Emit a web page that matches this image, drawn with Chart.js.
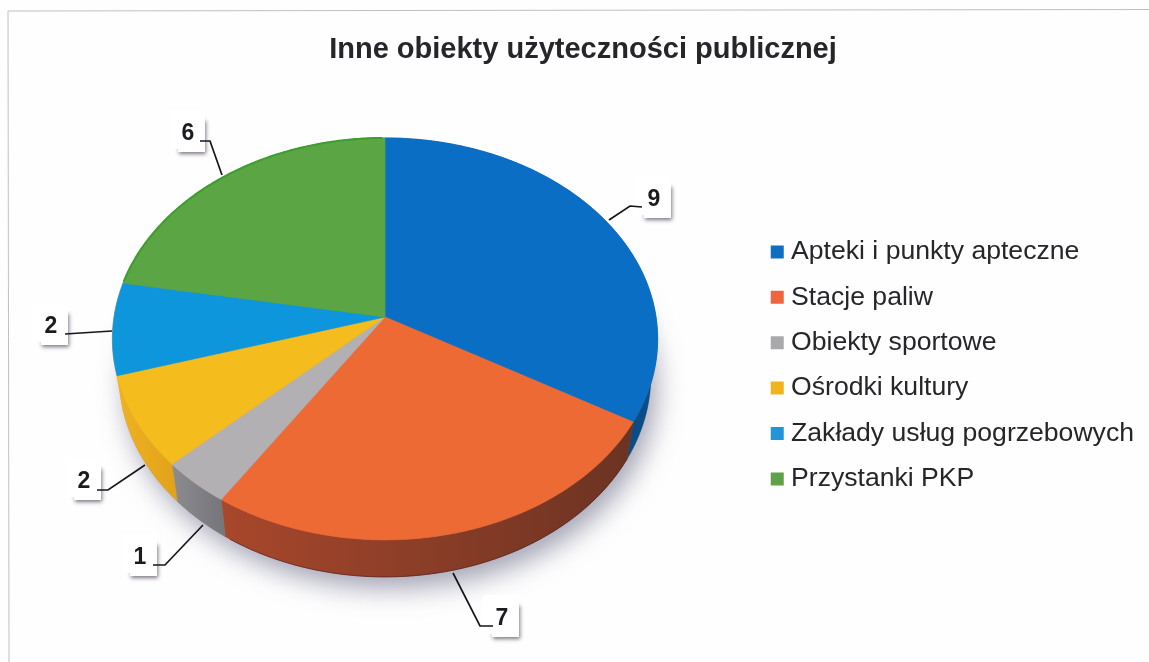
<!DOCTYPE html>
<html><head><meta charset="utf-8">
<style>html,body{margin:0;padding:0;background:#fff}#w{width:1149px;height:662px}</style>
<script src="https://cdn.jsdelivr.net/npm/chart.js@4"></script></head>
<body><div id="w"><canvas id="c" width="1149" height="662"></canvas></div>
<script>
const categories=["Apteki i punkty apteczne","Stacje paliw","Obiekty sportowe","Ośrodki kultury","Zakłady usług pogrzebowych","Przystanki PKP"];
const values=[9,7,1,2,2,6];
const topColors=["#0a6fc4","#ee6a35","#b3b0b3","#f4bc1c","#0d96dc","#5ba544"];
const legendColors=["#0e6fc0","#f0653c","#a9a9ad","#f0b41e","#2494d8","#5fa048"];
const wallColors=[["#0c4d86","#0a3f70"],["#6c3322","#a8472c"],["#77777b","#8c8c90"],["#e2a31c","#f0b222"],["#f0b222","#f0b222"],["#3d7a30","#3d7a30"]];
// label box right/bottom edges and leader polylines, per slice
const labelBoxes=[[671,218],[519,637],[157,576],[101,500],[68,345],[205,152]];
const leaders=[[[642,207],[630,206],[609,220]],[[493,626],[480,626],[453,573]],[[153,565],[165,565],[203,525]],[[97,490],[108,490],[145,465]],[[65,334],[112,331]],[[200,141],[210,141],[222,175]]];

const G={cx:385,cy:317,rx:271,ry:198.6,k:0.109,depth:37,bottomScale:0.975};
function proj(a,dy,s){const u=Math.cos(a),v=Math.sin(a),w=1-G.k*v;return [G.cx+(s||1)*G.rx*u/w,G.cy+G.ry*v/w+(dy||0)];}
function arcPts(a0,a1,dy,s){const n=Math.max(2,Math.ceil(Math.abs(a1-a0)/0.01)),p=[];for(let i=0;i<=n;i++)p.push(proj(a0+(a1-a0)*i/n,dy,s));return p;}
function trace(ctx,pts,move){pts.forEach((q,i)=>{(i===0&&move)?ctx.moveTo(q[0],q[1]):ctx.lineTo(q[0],q[1]);});}

const pie3d={id:'pie3d',
 beforeDraw(chart){const c=chart.ctx;c.save();c.fillStyle='#fefefe';c.fillRect(0,0,1149,662);
  c.strokeStyle='#c0c0c0';c.lineWidth=1;c.beginPath();c.moveTo(1149,9.5);c.lineTo(8,11);c.lineTo(9,662);c.stroke();c.restore();},
 beforeDatasetsDraw(chart){
  const c=chart.ctx,arcs=chart.getDatasetMeta(0).data;
  c.save();
  // soft shadow under the pie
  c.save();c.shadowColor='rgba(95,95,125,0.55)';c.shadowBlur=26;c.shadowOffsetX=6;c.shadowOffsetY=12;c.fillStyle='#888';
  c.beginPath();trace(c,arcPts(0,Math.PI*2,G.depth,G.bottomScale),true);c.closePath();c.fill();c.restore();
  // walls
  arcs.forEach((el,i)=>{
    const a0=el.startAngle,a1=el.endAngle,top=arcPts(a0,a1,0),bot=arcPts(a0,a1,G.depth,G.bottomScale).reverse();
    const xs=top.map(p=>p[0]),g=c.createLinearGradient(Math.max(...xs),0,Math.min(...xs),0);
    g.addColorStop(0,wallColors[i][0]);g.addColorStop(1,wallColors[i][1]);
    c.fillStyle=g;c.strokeStyle=g;c.lineWidth=.5;
    c.beginPath();trace(c,top,true);trace(c,bot,false);c.closePath();c.fill();c.stroke();
  });
  // bottom dark rim on the orange wall
  c.strokeStyle='rgba(70,20,20,.55)';c.lineWidth=1;c.beginPath();trace(c,arcPts(arcs[1].startAngle,arcs[1].endAngle-0.02,G.depth,G.bottomScale),true);c.stroke();
  // top faces
  arcs.forEach((el,i)=>{
    c.fillStyle=topColors[i];c.strokeStyle=topColors[i];c.lineWidth=.6;
    c.beginPath();c.moveTo(G.cx,G.cy);trace(c,arcPts(el.startAngle,el.endAngle,0),false);c.closePath();c.fill();c.stroke();
  });
  // bright green rim
  c.strokeStyle='#3c9e2c';c.lineWidth=2;c.beginPath();trace(c,arcPts(arcs[5].startAngle+.01,arcs[5].endAngle-.01,0),true);c.stroke();
  // value labels
  const vals=chart.data.datasets[0].data;
  arcs.forEach((el,i)=>{
    const r=labelBoxes[i][0],b=labelBoxes[i][1];
    c.save();c.shadowColor='rgba(70,60,80,.7)';c.shadowBlur=4;c.shadowOffsetX=1;c.shadowOffsetY=1.5;c.fillStyle='#fff';c.fillRect(r-27,b-33,27,33);c.restore();
    c.fillStyle='#fff';c.fillRect(r-36,b-42,36,36);c.fillRect(r-36,b-36,33,33);
    c.fillStyle='#1c1c20';c.font='bold 23px "Liberation Sans",Arial,sans-serif';c.textAlign='center';c.textBaseline='middle';
    c.fillText(String(vals[i]),r-17,b-18);
  });
  c.strokeStyle='#15151c';c.lineWidth=1.7;
  leaders.forEach(l=>{c.beginPath();trace(c,l,true);c.stroke();});
  c.restore();
  return false;
 }};

new Chart(document.getElementById('c'),{type:'pie',
 data:{labels:categories,datasets:[{data:values,backgroundColor:legendColors,borderWidth:0}]},
 options:{responsive:false,animation:false,rotation:0,
  layout:{padding:{left:22,right:5,top:33,bottom:0}},
  plugins:{tooltip:{enabled:false},
   title:{display:true,text:"Inne obiekty użyteczności publicznej",color:'#26262a',font:{family:'"Liberation Sans",Arial,sans-serif',size:29,weight:'bold'},padding:{top:0,bottom:1}},
   legend:{position:'right',fullSize:false,labels:{usePointStyle:true,pointStyle:'rect',boxWidth:1,boxHeight:13,color:'#26262a',padding:18.8,font:{family:'"Liberation Sans",Arial,sans-serif',size:26.6}}}}},
 plugins:[pie3d]});
</script></body></html>
